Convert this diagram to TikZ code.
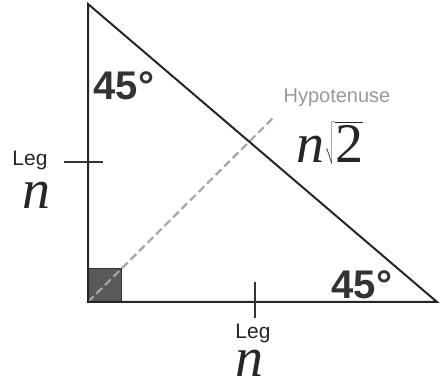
\documentclass[tikz,border=0pt]{standalone}
\usepackage{fontspec}
\setmainfont{Liberation Sans}
\newfontfamily\serifit{Liberation Serif}[Scale=1]
\begin{document}
\begin{tikzpicture}[x=1pt,y=-1pt,
  side/.style={line width=2pt,draw=black!85,line join=miter},
  tick/.style={line width=2pt,draw=black!80},
  hyp/.style={line width=2.2pt,draw=black!35,dash pattern=on 8pt off 4pt},
  angle/.style={font=\fontsize{40}{40}\selectfont\bfseries,text=black!80,inner sep=0pt},
  leglabel/.style={font=\fontsize{21}{21}\selectfont,text=black!85,inner sep=0pt},
  nlabel/.style={font=\fontsize{56}{56}\serifit\itshape,text=black!85,inner sep=0pt},
  hyplabel/.style={font=\fontsize{20}{20}\selectfont,text=black!40,inner sep=0pt}]
\useasboundingbox (0,0) rectangle (440,382);
\coordinate (A) at (88,4);
\coordinate (C) at (88,302);
\coordinate (B) at (437,302);
\coordinate (H) at (273,118);
% right angle square
\filldraw[fill=black!65,draw=black!80,line width=1pt] (C) rectangle ++(33,-33);
% dashed hypotenuse marker
\draw[hyp] (C) -- (H);
% triangle
\draw[side] (A) -- (C) -- (B) -- cycle;
% ticks
\coordinate (T1a) at (64,162); \coordinate (T1b) at (103,162);
\coordinate (T2a) at (255,282); \coordinate (T2b) at (255,318);
\draw[tick] (T1a) -- (T1b);
\draw[tick] (T2a) -- (T2b);
% labels
\node[angle] (a1) at (124,86) {45°};
\node[angle] (a2) at (362,285) {45°};
\node[leglabel] (l1) at (30,160) {Leg};
\node[nlabel] (n1) at (37,195) {n};
\node[leglabel] (l2) at (253,333) {Leg};
\node[nlabel] (n2) at (249,363) {n};
\node[hyplabel] (hl) at (337,98) {Hypotenuse};
\node[inner sep=0pt,text=black!85] (hn) at (330,143) {\fontsize{56}{56}\selectfont{\serifit\itshape n}$\sqrt{\hbox{\serifit 2}}$};
\end{tikzpicture}
\end{document}
